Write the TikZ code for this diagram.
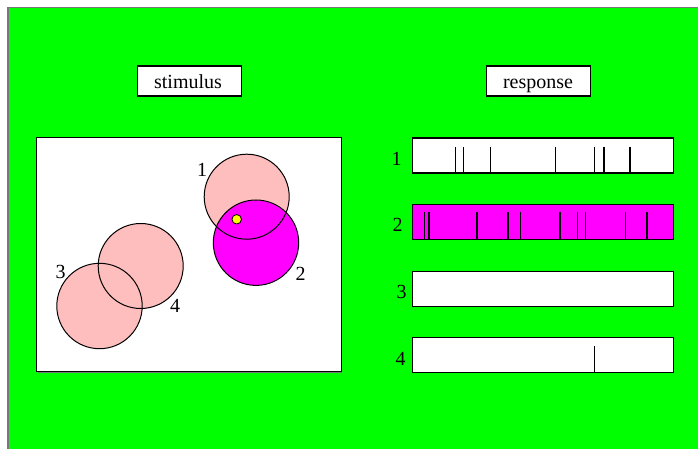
\documentclass[tikz,border=0pt]{standalone}
\usepackage{fontspec}
\setmainfont{Liberation Serif}
\definecolor{bggreen}{RGB}{0,255,0}
\definecolor{pinkc}{RGB}{255,190,190}
\definecolor{magc}{RGB}{255,0,255}
\definecolor{yelc}{RGB}{255,255,0}
\definecolor{shadowc}{RGB}{120,120,120}
\tikzset{
  lbl/.style={anchor=base, inner sep=0pt, font=\fontsize{20}{24}\selectfont},
  titlebox/.style={draw=black, line width=1.2pt, fill=white, minimum width=104pt, minimum height=30pt, inner sep=0pt, anchor=north west},
  bar/.style={draw=black, line width=1.2pt, minimum width=261pt, minimum height=35pt, inner sep=0pt, anchor=north west},
  spike/.style={draw=black, line width=1.3pt},
  disc/.style={circle, inner sep=0pt, minimum size=85pt},
  ring/.style={draw=black, line width=1pt},
}
\begin{document}
\begin{tikzpicture}[x=1pt,y=-1pt]
\useasboundingbox (0,0) rectangle (698,449);
\fill[white] (0,0) rectangle (698,449);
% background
\fill[bggreen] (8,7.5) rectangle (700,451);
\draw[shadowc, line width=1.5pt] (8,451) -- (8,7.5) -- (700,7.5);
% title boxes
\node[titlebox] (stimbox) at (137,65.5) {};
\node[lbl] (stimtxt) at (188,88.3) {stimulus};
\node[titlebox] (respbox) at (486,65.5) {};
\node[lbl] (resptxt) at (538,88.3) {response};
% stimulus panel
\fill[shadowc] (37.5,138.5) rectangle (342,372.5);
\node[draw=black, line width=1.2pt, fill=white, minimum width=305pt, minimum height=234pt, inner sep=0pt, anchor=north west] (panel) at (36,137) {};
% circle fills
\node[disc, fill=pinkc] (c1) at (246.7,196.7) {};
\node[disc, fill=magc] (c2) at (256,242.7) {};
\node[disc, fill=pinkc] (c4) at (140.7,266) {};
\node[disc, fill=pinkc] (c3) at (99.5,306) {};
% circle outlines
\draw[ring] (c1.center) circle[radius=42.5];
\draw[ring] (c2.center) circle[radius=42.7];
\draw[ring] (c4.center) circle[radius=42.5];
\draw[ring] (c3.center) circle[radius=42.7];
% yellow dot
\node[circle, draw=black, line width=0.8pt, fill=yelc, minimum size=9.5pt, inner sep=0pt] (dot) at (236.7,219.3) {};
% circle labels
\node[lbl] (l1) at (202,176.7) {1};
\node[lbl] (l2) at (300.7,280) {2};
\node[lbl] (l3) at (60.7,278.3) {3};
\node[lbl] (l4) at (175,312.7) {4};
% response bars with shadows
\foreach \t in {137.5,203.5,270.5,337} {
  \fill[shadowc] (413.5,\t+1.5) rectangle (674,\t+36.2);
}
\node[bar, fill=white] (b1) at (412,137.5) {};
\node[bar, fill=magc] (b2) at (412,203.5) {};
\node[bar, fill=white] (b3) at (412,270.5) {};
\node[bar, fill=white] (b4) at (412,337) {};
% spikes
\foreach \x in {455.3,463.7,490.7,555.7,594.7,604,630} {
  \draw[spike] (\x,146.7) -- (\x,172.5);
}
\foreach \x in {424.3,429,477,508,520.3,560,577.3,585.7,625.3,647} {
  \draw[spike] (\x,211.5) -- (\x,238.5);
}
\draw[spike] (594.3,345.7) -- (594.3,372);
% bar labels
\node[lbl] (r1) at (396.7,165.7) {1};
\node[lbl] (r2) at (397.5,231.7) {2};
\node[lbl] (r3) at (401.5,298) {3};
\node[lbl] (r4) at (400.5,365) {4};
\end{tikzpicture}
\end{document}
